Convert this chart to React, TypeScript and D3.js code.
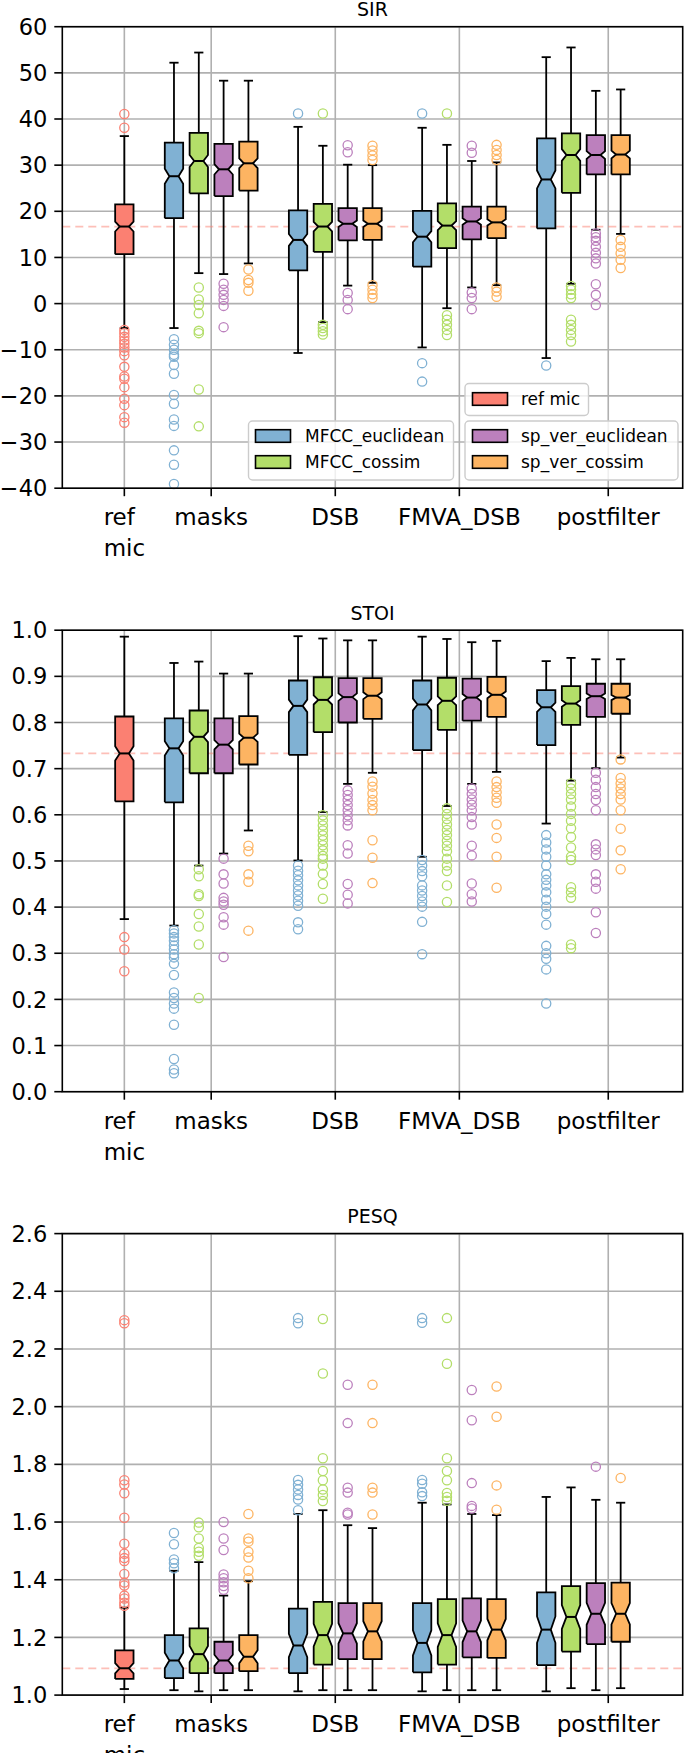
import React from "react";
import * as d3 from "d3";

// ---------------- categories / series ----------------
const groupLabels: string[][] = [["ref", "mic"], ["masks"], ["DSB"], ["FMVA_DSB"], ["postfilter"]];
const groupTickPositions = [0, 3.5, 8.5, 13.5, 19.5];
const seriesNames = ["ref mic", "MFCC_euclidean", "MFCC_cossim", "sp_ver_euclidean", "sp_ver_cossim"];
const seriesColors = ["#FB8072", "#80B1D3", "#B3DE69", "#BC80BD", "#FDB462"];
// box order: ref mic, then masks / DSB / FMVA_DSB / postfilter x 4 series
const boxPositions = [0, 2, 3, 4, 5, 7, 8, 9, 10, 12, 13, 14, 15, 17, 18, 19, 20];
const boxSeries = [0, 1, 2, 3, 4, 1, 2, 3, 4, 1, 2, 3, 4, 1, 2, 3, 4];

// ---------------- SIR ----------------
const sirTicks = [-40, -30, -20, -10, 0, 10, 20, 30, 40, 50, 60];
const sirWhisLo = [-5.3, -5.3, 6.6, 6.4, 8.7, -10.7, -4.0, 3.9, 4.5, -9.5, -1.0, 3.5, 4.0, -11.8, 4.3, 16.0, 15.1];
const sirQ1 = [10.7, 18.5, 23.9, 23.3, 24.5, 7.2, 11.2, 13.7, 13.8, 8.0, 12.0, 13.9, 14.2, 16.3, 24.0, 28.0, 28.0];
const sirMed = [16.7, 27.6, 30.9, 29.1, 30.4, 13.8, 16.7, 17.3, 17.3, 14.5, 16.9, 17.8, 17.6, 26.9, 32.2, 32.2, 32.3];
const sirQ3 = [21.5, 34.9, 37.0, 34.6, 35.1, 20.2, 21.6, 20.7, 20.7, 20.1, 21.7, 21.0, 21.0, 35.8, 36.9, 36.5, 36.5];
const sirWhisHi = [36.3, 52.2, 54.4, 48.3, 48.3, 38.3, 34.2, 30.1, 30.0, 38.1, 34.4, 30.9, 30.6, 53.4, 55.5, 46.1, 46.4];
const sirFliers: number[][] = [
  [41.1, 38.1, -5.7, -6.4, -7.2, -8.0, -8.7, -9.5, -10.3, -11.2, -13.7, -15.8, -16.3, -18.1, -20.6, -22.0, -24.6, -25.8],
  [-7.7, -8.9, -10.0, -11.1, -11.5, -13.3, -15.2, -19.8, -21.7, -25.1, -26.5, -31.8, -34.9, -39.1],
  [3.5, 0.9, -0.3, -2.1, -5.9, -6.4, -18.6, -26.6],
  [4.3, 3.0, 1.9, 0.8, -0.5, -5.1],
  [7.4, 5.1, 4.5, 2.8],
  [41.2],
  [41.2, -4.6, -5.3, -6.0, -6.7],
  [34.3, 32.8, 2.3, 0.8, -1.2],
  [34.2, 33.2, 32.1, 31.1, 4.0, 3.0, 2.0, 1.2],
  [41.2, -12.9, -16.9],
  [41.2, -2.5, -3.5, -4.6, -5.7, -6.8],
  [34.2, 32.7, 2.4, 1.2, -1.2],
  [34.4, 33.3, 32.2, 31.1, 3.5, 2.6, 1.5],
  [-13.4],
  [3.8, 3.0, 2.0, 1.2, -3.5, -4.6, -5.7, -6.8, -8.2],
  [15.2, 14.4, 13.6, 12.3, 11.0, 9.8, 8.7, 4.2, 1.9, -0.3],
  [13.8, 12.3, 10.9, 9.5, 7.7],
];

// ---------------- STOI ----------------
const stoiTicks = [0, 0.1, 0.2, 0.3, 0.4, 0.5, 0.6, 0.7, 0.8, 0.9, 1.0];
const stoiWhisLo = [0.374, 0.360, 0.490, 0.516, 0.566, 0.501, 0.606, 0.667, 0.691, 0.509, 0.619, 0.667, 0.693, 0.581, 0.674, 0.701, 0.724];
const stoiQ1 = [0.629, 0.627, 0.690, 0.690, 0.709, 0.730, 0.779, 0.800, 0.808, 0.740, 0.784, 0.804, 0.812, 0.751, 0.795, 0.812, 0.819];
const stoiMed = [0.733, 0.744, 0.769, 0.752, 0.767, 0.836, 0.849, 0.855, 0.858, 0.839, 0.847, 0.854, 0.860, 0.833, 0.841, 0.857, 0.854];
const stoiQ3 = [0.813, 0.809, 0.826, 0.809, 0.814, 0.891, 0.898, 0.896, 0.896, 0.891, 0.897, 0.895, 0.899, 0.870, 0.879, 0.884, 0.884];
const stoiWhisHi = [0.986, 0.929, 0.932, 0.906, 0.906, 0.987, 0.982, 0.978, 0.978, 0.986, 0.981, 0.974, 0.977, 0.933, 0.940, 0.937, 0.937];
const stoiFliers: number[][] = [
  [0.335, 0.308, 0.261],
  [0.350, 0.343, 0.335, 0.327, 0.317, 0.308, 0.298, 0.291, 0.277, 0.253, 0.215, 0.203, 0.191, 0.180, 0.145, 0.071, 0.048, 0.040],
  [0.482, 0.467, 0.428, 0.424, 0.385, 0.358, 0.319, 0.203],
  [0.505, 0.471, 0.451, 0.420, 0.412, 0.405, 0.378, 0.362, 0.292],
  [0.533, 0.521, 0.471, 0.455, 0.349],
  [0.490, 0.479, 0.469, 0.458, 0.447, 0.436, 0.425, 0.414, 0.403, 0.367, 0.352],
  [0.599, 0.588, 0.577, 0.566, 0.555, 0.545, 0.534, 0.523, 0.511, 0.505, 0.490, 0.472, 0.450, 0.418],
  [0.653, 0.643, 0.632, 0.621, 0.610, 0.599, 0.588, 0.577, 0.534, 0.516, 0.450, 0.427, 0.408],
  [0.672, 0.661, 0.646, 0.632, 0.621, 0.610, 0.545, 0.507, 0.452],
  [0.502, 0.490, 0.478, 0.467, 0.447, 0.436, 0.424, 0.412, 0.401, 0.368, 0.298],
  [0.614, 0.602, 0.591, 0.579, 0.567, 0.556, 0.544, 0.533, 0.521, 0.505, 0.490, 0.478, 0.447, 0.411],
  [0.657, 0.645, 0.633, 0.622, 0.610, 0.595, 0.579, 0.533, 0.512, 0.451, 0.428, 0.412],
  [0.672, 0.660, 0.649, 0.637, 0.626, 0.579, 0.550, 0.509, 0.442],
  [0.556, 0.540, 0.525, 0.509, 0.490, 0.471, 0.459, 0.447, 0.432, 0.416, 0.401, 0.385, 0.362, 0.316, 0.300, 0.288, 0.265, 0.191],
  [0.668, 0.657, 0.645, 0.633, 0.618, 0.602, 0.587, 0.571, 0.552, 0.529, 0.509, 0.502, 0.443, 0.432, 0.420, 0.319, 0.311],
  [0.691, 0.676, 0.660, 0.645, 0.632, 0.610, 0.536, 0.525, 0.513, 0.471, 0.455, 0.440, 0.389, 0.344],
  [0.720, 0.680, 0.668, 0.657, 0.645, 0.633, 0.610, 0.570, 0.523, 0.482],
];

// ---------------- PESQ ----------------
const pesqTicks = [1.0, 1.2, 1.4, 1.6, 1.8, 2.0, 2.2, 2.4, 2.6];
const pesqWhisLo = [1.021, 1.017, 1.013, 1.017, 1.017, 1.013, 1.017, 1.017, 1.017, 1.013, 1.017, 1.017, 1.017, 1.013, 1.024, 1.017, 1.024];
const pesqQ1 = [1.056, 1.059, 1.076, 1.076, 1.083, 1.076, 1.106, 1.125, 1.125, 1.079, 1.106, 1.131, 1.129, 1.104, 1.151, 1.177, 1.185];
const pesqMed = [1.093, 1.120, 1.142, 1.120, 1.133, 1.172, 1.208, 1.214, 1.221, 1.181, 1.208, 1.221, 1.227, 1.227, 1.271, 1.282, 1.282];
const pesqQ3 = [1.155, 1.208, 1.231, 1.185, 1.208, 1.300, 1.323, 1.319, 1.319, 1.319, 1.333, 1.335, 1.333, 1.356, 1.378, 1.388, 1.390];
const pesqWhisHi = [1.303, 1.431, 1.461, 1.345, 1.395, 1.628, 1.641, 1.589, 1.579, 1.667, 1.661, 1.628, 1.624, 1.687, 1.720, 1.677, 1.667];
const pesqFliers: number[][] = [
  [2.300, 2.289, 1.745, 1.730, 1.700, 1.615, 1.525, 1.490, 1.475, 1.465, 1.420, 1.390, 1.380, 1.345, 1.335, 1.320, 1.310],
  [1.562, 1.523, 1.470, 1.457, 1.440],
  [1.598, 1.582, 1.543, 1.510, 1.497, 1.483],
  [1.600, 1.543, 1.503, 1.418, 1.405, 1.391, 1.378, 1.365],
  [1.628, 1.543, 1.532, 1.497, 1.477, 1.431, 1.405],
  [2.307, 2.289, 1.746, 1.729, 1.713, 1.694, 1.678, 1.641],
  [2.304, 2.115, 1.821, 1.777, 1.745, 1.713, 1.694, 1.673],
  [2.076, 1.943, 1.719, 1.702, 1.632, 1.626],
  [2.076, 1.943, 1.719, 1.702, 1.626],
  [2.307, 2.291, 1.746, 1.733, 1.703, 1.690],
  [2.307, 2.149, 1.821, 1.777, 1.745, 1.701, 1.687, 1.674],
  [2.058, 1.953, 1.735, 1.656, 1.647],
  [2.070, 1.965, 1.727, 1.643],
  [],
  [],
  [1.792],
  [1.753],
];

// ---------------- layout ----------------
const W = 685;
const H = 1753;
const plotLeft = 62.3;
const plotRight = 682.7;
const panelHeight = 461.5;
const FONT = "DejaVu Sans, Verdana, sans-serif";
const boxWidth = 0.74;

type PanelProps = {
  title: string;
  top: number;
  yDomain: [number, number];
  yTicks: number[];
  yFormat: (v: number) => string;
  whisLo: number[];
  q1: number[];
  med: number[];
  q3: number[];
  whisHi: number[];
  fliers: number[][];
  notchN: number;
  showLegend?: boolean;
};

function Panel(p: PanelProps) {
  const x = d3.scaleLinear().domain([-2.5, 22.5]).range([plotLeft, plotRight]);
  const y = d3.scaleLinear().domain(p.yDomain).range([p.top + p.panelBottomFix ?? 0, 0]);
  return null;
}

function BoxPanel(p: PanelProps) {
  const bottom = p.top + panelHeight;
  const x = d3.scaleLinear().domain([-2.5, 22.5]).range([plotLeft, plotRight]);
  const y = d3.scaleLinear().domain(p.yDomain).range([bottom, p.top]);
  const line = d3.line<[number, number]>().x((d) => x(d[0])).y((d) => y(d[1]));
  const refMed = p.med[0];

  const boxes = boxPositions.map((pos, i) => {
    const color = seriesColors[boxSeries[i]];
    const L = pos - boxWidth / 2;
    const R = pos + boxWidth / 2;
    const nL = pos - boxWidth / 4;
    const nR = pos + boxWidth / 4;
    const iqr = p.q3[i] - p.q1[i];
    const half = (1.57 * iqr) / Math.sqrt(p.notchN);
    const cilo = p.med[i] - half;
    const cihi = p.med[i] + half;
    const pts: [number, number][] = [
      [L, p.q1[i]], [R, p.q1[i]], [R, cilo], [nR, p.med[i]], [R, cihi], [R, p.q3[i]],
      [L, p.q3[i]], [L, cihi], [nL, p.med[i]], [L, cilo], [L, p.q1[i]],
    ];
    const capL = x(pos - boxWidth / 4);
    const capR = x(pos + boxWidth / 4);
    const cx = x(pos);
    return (
      <g key={i}>
        <line x1={cx} x2={cx} y1={y(p.q1[i])} y2={y(p.whisLo[i])} stroke="#000" strokeWidth={1.8} />
        <line x1={cx} x2={cx} y1={y(p.q3[i])} y2={y(p.whisHi[i])} stroke="#000" strokeWidth={1.8} />
        <line x1={capL} x2={capR} y1={y(p.whisLo[i])} y2={y(p.whisLo[i])} stroke="#000" strokeWidth={1.8} />
        <line x1={capL} x2={capR} y1={y(p.whisHi[i])} y2={y(p.whisHi[i])} stroke="#000" strokeWidth={1.8} />
        <path d={line(pts) || ""} fill={color} stroke="#000" strokeWidth={1.8} strokeLinejoin="miter" />
        <line x1={x(nL)} x2={x(nR)} y1={y(p.med[i])} y2={y(p.med[i])} stroke="#000" strokeWidth={2} />
        {p.fliers[i].map((v, j) => (
          <circle key={j} cx={cx} cy={y(v)} r={4.6} fill="none" stroke={color} strokeWidth={1.3} />
        ))}
      </g>
    );
  });

  return (
    <g>
      {/* grid */}
      {p.yTicks.map((t, i) => (
        <line key={"gy" + i} x1={plotLeft} x2={plotRight} y1={y(t)} y2={y(t)} stroke="#b0b0b0" strokeWidth={1.6} />
      ))}
      {groupTickPositions.map((t, i) => (
        <line key={"gx" + i} x1={x(t)} x2={x(t)} y1={p.top} y2={bottom} stroke="#b0b0b0" strokeWidth={1.6} />
      ))}
      {/* reference median line */}
      <line x1={plotLeft} x2={plotRight} y1={y(refMed)} y2={y(refMed)} stroke={seriesColors[0]} strokeOpacity={0.5}
        strokeWidth={1.8} strokeDasharray="8,5" />
      {boxes}
      {/* spines */}
      <rect x={plotLeft} y={p.top} width={plotRight - plotLeft} height={panelHeight} fill="none" stroke="#000" strokeWidth={1.6} />
      {/* y ticks */}
      {p.yTicks.map((t, i) => (
        <g key={"ty" + i}>
          <line x1={plotLeft - 8} x2={plotLeft} y1={y(t)} y2={y(t)} stroke="#000" strokeWidth={1.6} />
          <text x={plotLeft - 15} y={y(t)} dy="0.36em" textAnchor="end" fontFamily={FONT} fontSize={22.5} fill="#000">
            {p.yFormat(t)}
          </text>
        </g>
      ))}
      {/* x ticks */}
      {groupTickPositions.map((t, i) => (
        <g key={"tx" + i}>
          <line x1={x(t)} x2={x(t)} y1={bottom} y2={bottom + 8} stroke="#000" strokeWidth={1.6} />
          {groupLabels[i].length === 1 ? (
            <text x={x(t)} y={bottom + 37} textAnchor="middle" fontFamily={FONT} fontSize={23} fill="#000">
              {groupLabels[i][0]}
            </text>
          ) : (
            <text fontFamily={FONT} fontSize={23} fill="#000">
              {groupLabels[i].map((s, k) => (
                <tspan key={k} x={x(t) - 20.7} y={bottom + 37 + k * 31}>{s}</tspan>
              ))}
            </text>
          )}
        </g>
      ))}
      <text x={(plotLeft + plotRight) / 2} y={p.top - 10.5} textAnchor="middle" fontFamily={FONT} fontSize={19} fill="#000">
        {p.title}
      </text>
      {p.showLegend ? <Legends /> : null}
    </g>
  );
}

function LegendBox({ x0, y0, w, h, items, patchX, textX, rowYs }:
  { x0: number; y0: number; w: number; h: number; items: number[]; patchX: number; textX: number; rowYs: number[] }) {
  return (
    <g>
      <rect x={x0} y={y0} width={w} height={h} rx={4} ry={4} fill="#fff" fillOpacity={0.8} stroke="#cccccc" strokeWidth={1.4} />
      {items.map((s, k) => (
        <g key={k}>
          <rect x={patchX} y={rowYs[k] - 6.3} width={35} height={12.6} fill={seriesColors[s]} stroke="#000" strokeWidth={1.6} />
          <text x={textX} y={rowYs[k]} dy="0.36em" fontFamily={FONT} fontSize={17} fill="#000">{seriesNames[s]}</text>
        </g>
      ))}
    </g>
  );
}

function Legends() {
  return (
    <g>
      <LegendBox x0={465} y0={383.5} w={123.5} h={32} items={[0]} patchX={472.5} textX={521} rowYs={[399]} />
      <LegendBox x0={248.5} y0={421} w={205} h={59} items={[1, 2]} patchX={255.5} textX={305} rowYs={[436, 462]} />
      <LegendBox x0={465} y0={421} w={213} h={59} items={[3, 4]} patchX={472.5} textX={521} rowYs={[436, 462]} />
    </g>
  );
}

const fmtInt = d3.format("d");
const fmt1 = d3.format(".1f");

export default function App() {
  return (
    <svg width={W} height={H} viewBox={`0 0 ${W} ${H}`}
      style={{ position: "absolute", left: 0, top: 0, background: "#fff" }}>
      <rect x={0} y={0} width={W} height={H} fill="#fff" />
      <BoxPanel title="SIR" top={26.7} yDomain={[-40, 60]} yTicks={sirTicks} yFormat={fmtInt}
        whisLo={sirWhisLo} q1={sirQ1} med={sirMed} q3={sirQ3} whisHi={sirWhisHi} fliers={sirFliers} notchN={250} showLegend />
      <BoxPanel title="STOI" top={630.2} yDomain={[0, 1]} yTicks={stoiTicks} yFormat={fmt1}
        whisLo={stoiWhisLo} q1={stoiQ1} med={stoiMed} q3={stoiQ3} whisHi={stoiWhisHi} fliers={stoiFliers} notchN={350} />
      <BoxPanel title="PESQ" top={1233.6} yDomain={[1.0, 2.6]} yTicks={pesqTicks} yFormat={fmt1}
        whisLo={pesqWhisLo} q1={pesqQ1} med={pesqMed} q3={pesqQ3} whisHi={pesqWhisHi} fliers={pesqFliers} notchN={75} />
    </svg>
  );
}
